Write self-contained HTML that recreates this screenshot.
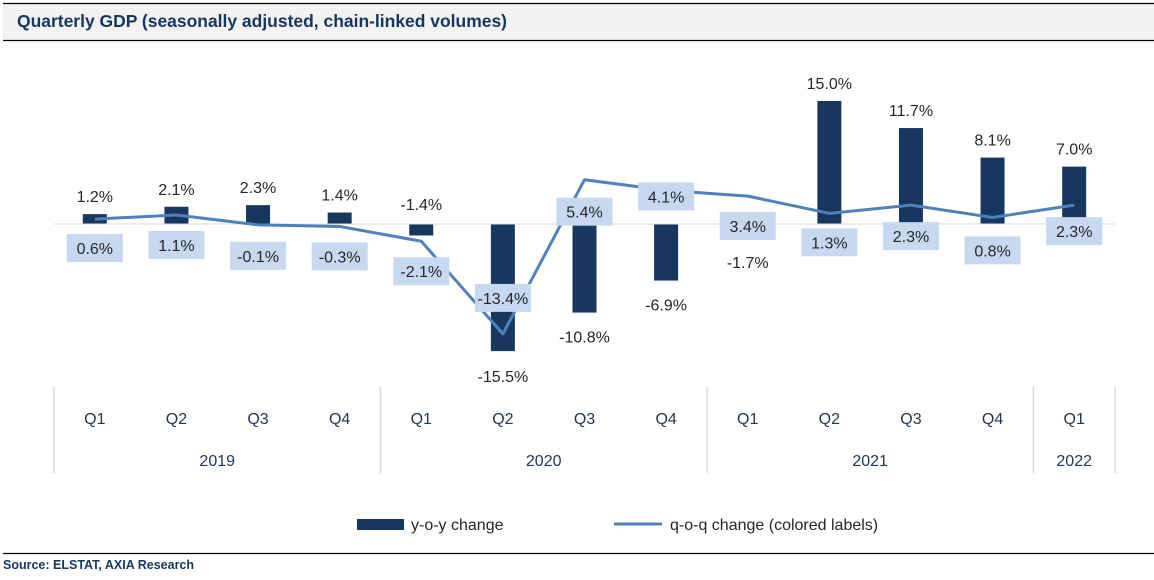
<!DOCTYPE html>
<html><head><meta charset="utf-8">
<style>
body{margin:0;background:#fff;width:1154px;height:575px;overflow:hidden;font-family:"Liberation Sans",sans-serif;}
svg text{font-family:"Liberation Sans",sans-serif;}
</style></head>
<body>
<svg width="1154" height="575" xmlns="http://www.w3.org/2000/svg">
<rect x="3" y="4" width="1151" height="36" fill="#f2f2f2"/>
<line x1="3" y1="3.5" x2="1154" y2="3.5" stroke="#000" stroke-width="1.2"/>
<line x1="3" y1="40.5" x2="1154" y2="40.5" stroke="#000" stroke-width="1.2"/>
<text x="17" y="27" font-size="17.5" font-weight="bold" fill="#17375e" textLength="490">Quarterly GDP (seasonally adjusted, chain-linked volumes)</text>
<g id="plot"></g>
<g>
<rect x="357" y="519" width="47" height="11" fill="#17375e"/>
<text x="411" y="530" font-size="16" fill="#262626">y-o-y change</text>
<line x1="614" y1="524" x2="662" y2="524" stroke="#4f81bd" stroke-width="3"/>
<text x="670" y="530" font-size="16" fill="#262626">q-o-q change (colored labels)</text>
</g>
<line x1="3" y1="553.5" x2="1154" y2="553.5" stroke="#000" stroke-width="1.2"/>
<text x="3" y="569" font-size="12.5" font-weight="bold" fill="#17375e">Source: ELSTAT, AXIA Research</text>
</svg>
<script>
const quarters=["Q1","Q2","Q3","Q4","Q1","Q2","Q3","Q4","Q1","Q2","Q3","Q4","Q1"];
const years=["2019","2020","2021","2022"];
const yearCounts=[4,4,4,1];
const yoy=[1.2,2.1,2.3,1.4,-1.4,-15.5,-10.8,-6.9,-1.7,15.0,11.7,8.1,7.0];
const qoq=[0.6,1.1,-0.1,-0.3,-2.1,-13.4,5.4,4.1,3.4,1.3,2.3,0.8,2.3];
const yoyLabelOffset=[-12,-12,-12,-12,-14,31,30,30,30,-12,-12,-12,-12];
const qoqLabelOffset=[29,30,31,30,30,-36,32,6,30,29,31,33,26];
const NS="http://www.w3.org/2000/svg";
const g=document.getElementById("plot");
const x0=54,x1=1115,zeroY=224,ppu=8.2;
const bw=(x1-x0)/quarters.length;
const X=i=>x0+bw*(i+0.5);
const Y=v=>zeroY-v*ppu;
function mk(t,a){const e=document.createElementNS(NS,t);for(const k in a)e.setAttribute(k,a[k]);g.appendChild(e);return e;}
const fmt=v=>v.toFixed(1)+"%";
yoy.forEach((v,i)=>{
 const r=mk("rect",{x:X(i)-12,y:Math.min(Y(v),zeroY),width:24,height:Math.abs(Y(v)-zeroY),fill:"#17375e"});
 
 
});
const zl=mk("line",{x1:x0,y1:zeroY,x2:x1,y2:zeroY,stroke:"#d9d9d9","stroke-width":1});


const pts=qoq.map((v,i)=>X(i)+","+Y(v)).join(" ");
const pl=mk("polyline",{points:pts,fill:"none",stroke:"#4f81bd","stroke-width":3,"stroke-linejoin":"round"});


yoy.forEach((v,i)=>{
 const base=yoyLabelOffset[i]<0?Math.min(Y(v),zeroY):Math.max(Y(v),zeroY);
 const t=mk("text",{x:X(i),y:base+yoyLabelOffset[i],"font-size":16,"text-anchor":"middle",fill:"#262626"});
 t.textContent=fmt(v);
 
 
});
qoq.forEach((v,i)=>{
 const cy=Y(v)+qoqLabelOffset[i];
 const b=mk("rect",{x:X(i)-28,y:cy-14,width:56,height:28,fill:"#c6d9f0"});
 
 
 const t=mk("text",{x:X(i),y:cy+6,"font-size":16,"text-anchor":"middle",fill:"#262626"});
 t.textContent=fmt(v);
 
 
});
quarters.forEach((q,i)=>{
 const t=mk("text",{x:X(i),y:424,"font-size":16,"text-anchor":"middle",fill:"#1f3552"});
 t.textContent=q;
 
 
});
let start=0;
const sep=i=>{const l=mk("line",{x1:x0+bw*i,y1:387,x2:x0+bw*i,y2:473,stroke:"#d9d9d9","stroke-width":1.5});
 
 };
sep(0);
years.forEach((yr,k)=>{
 const end=start+yearCounts[k];
 const t=mk("text",{x:x0+bw*(start+end)/2,y:466,"font-size":16,"text-anchor":"middle",fill:"#1f3552"});
 t.textContent=yr;
 
 
 sep(end);start=end;
});
</script>
</body></html>
